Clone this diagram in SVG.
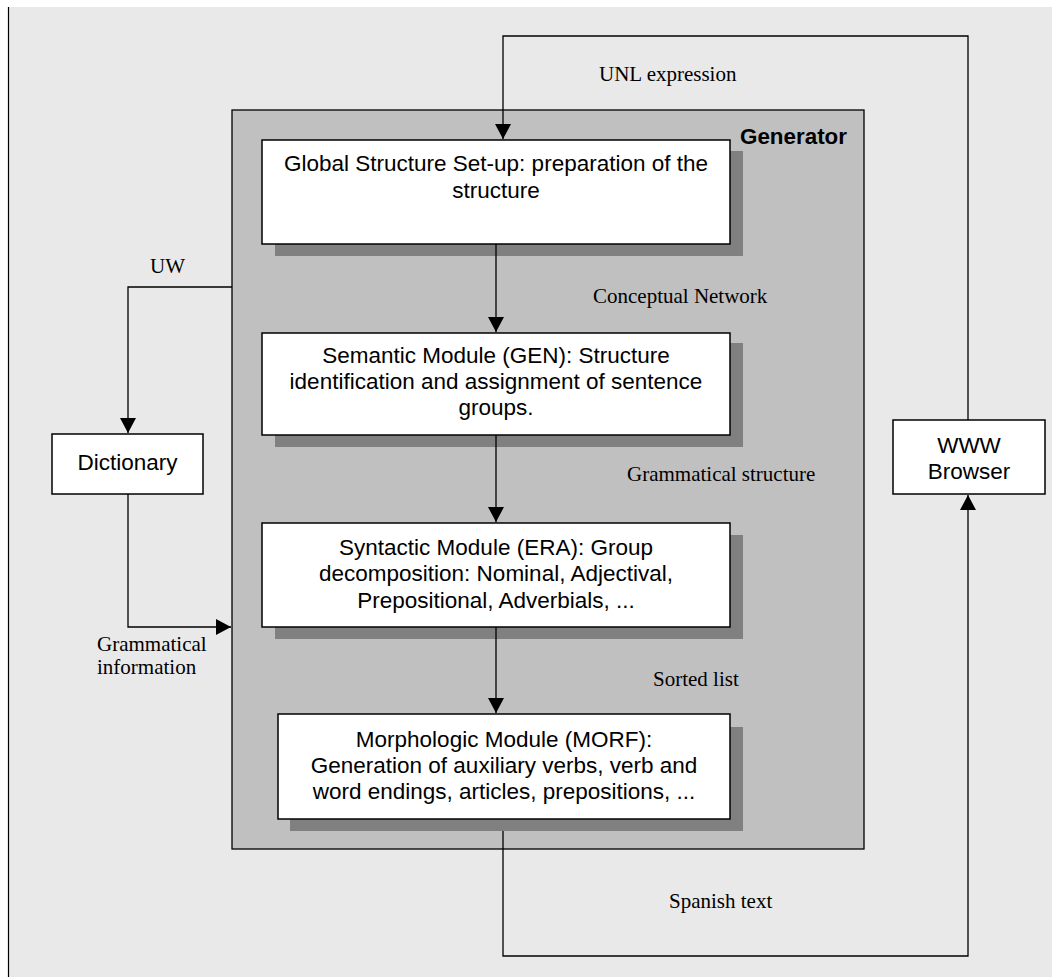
<svg xmlns="http://www.w3.org/2000/svg" width="1052" height="977" viewBox="0 0 1052 977">
  <defs>
    <style>
      .panel { fill: #e9e9e9; }
      .gen { fill: #c0c0c0; stroke: #000; stroke-width: 1.3; }
      .box { fill: #ffffff; stroke: #000; stroke-width: 1.5; }
      .shadow { fill: #808080; }
      .sans { font-family: "Liberation Sans", Arial, sans-serif; font-size: 22.5px; fill: #000; text-anchor: middle; }
      .title { font-family: "Liberation Sans", Arial, sans-serif; font-size: 22.4px; font-weight: bold; fill: #000; }
      .lbl { font-family: "Liberation Serif", "Times New Roman", serif; font-size: 21px; fill: #000; }
      .wire { fill: none; stroke: #000; stroke-width: 1.3; }
    </style>
    <marker id="arrow" viewBox="0 0 15 16" refX="15" refY="8" markerWidth="15" markerHeight="16" markerUnits="userSpaceOnUse" orient="auto">
      <path d="M0,0 L15,8 L0,16 z" fill="#000"/>
    </marker>
  </defs>

  <!-- page background with left rule -->
  <rect class="panel" x="8" y="7" width="1044" height="970"/>
  <line x1="8.5" y1="7" x2="8.5" y2="977" stroke="#000" stroke-width="1.2"/>

  <!-- Generator container -->
  <g id="generator">
    <rect class="gen" x="232" y="110" width="632" height="739"/>
    <text class="title" x="740" y="144">Generator</text>
  </g>

  <!-- module shadows -->
  <g id="shadows">
    <rect class="shadow" x="275" y="151" width="468" height="105"/>
    <rect class="shadow" x="275" y="343" width="468" height="104"/>
    <rect class="shadow" x="275" y="535" width="468" height="104"/>
    <rect class="shadow" x="290" y="727" width="453" height="104"/>
  </g>

  <!-- connectors -->
  <g id="connectors">
    <path class="wire" d="M968,420 V36 H503 V139" marker-end="url(#arrow)"/>
    <path class="wire" d="M496,244 V332" marker-end="url(#arrow)"/>
    <path class="wire" d="M496,435 V522" marker-end="url(#arrow)"/>
    <path class="wire" d="M496,627 V713" marker-end="url(#arrow)"/>
    <path class="wire" d="M232,287 H128 V433" marker-end="url(#arrow)"/>
    <path class="wire" d="M128,494 V627 H231" marker-end="url(#arrow)"/>
    <path class="wire" d="M503,831 V956 H968 V495" marker-end="url(#arrow)"/>
  </g>

  <g id="global-setup">
    <rect class="box" x="262" y="140" width="468" height="104"/>
    <text class="sans" x="496" y="171">Global Structure Set-up: preparation of the</text>
    <text class="sans" x="496" y="198">structure</text>
  </g>

  <g id="semantic-module">
    <rect class="box" x="262" y="333" width="468" height="102"/>
    <text class="sans" x="496" y="363">Semantic Module (GEN): Structure</text>
    <text class="sans" x="496" y="389">identification and assignment of sentence</text>
    <text class="sans" x="496" y="415">groups.</text>
  </g>

  <g id="syntactic-module">
    <rect class="box" x="262" y="523" width="468" height="104"/>
    <text class="sans" x="496" y="555">Syntactic Module (ERA): Group</text>
    <text class="sans" x="496" y="581">decomposition: Nominal, Adjectival,</text>
    <text class="sans" x="496" y="608">Prepositional, Adverbials, ...</text>
  </g>

  <g id="morphologic-module">
    <rect class="box" x="278" y="714" width="452" height="105"/>
    <text class="sans" x="504" y="747">Morphologic Module (MORF):</text>
    <text class="sans" x="504" y="773">Generation of auxiliary verbs, verb and</text>
    <text class="sans" x="504" y="799">word endings, articles, prepositions, ...</text>
  </g>

  <g id="dictionary">
    <rect class="box" x="52" y="434" width="151" height="60"/>
    <text class="sans" x="127.5" y="470">Dictionary</text>
  </g>

  <g id="www-browser">
    <rect class="box" x="893" y="420" width="152" height="74"/>
    <text class="sans" x="969" y="453">WWW</text>
    <text class="sans" x="969" y="479">Browser</text>
  </g>

  <!-- connector labels -->
  <g id="labels">
    <text class="lbl" x="599" y="81">UNL expression</text>
    <text class="lbl" x="150" y="273">UW</text>
    <text class="lbl" x="593" y="303">Conceptual Network</text>
    <text class="lbl" x="627" y="481">Grammatical structure</text>
    <text class="lbl" x="653" y="686">Sorted list</text>
    <text class="lbl" x="97" y="651">Grammatical</text>
    <text class="lbl" x="97" y="674">information</text>
    <text class="lbl" x="669" y="908">Spanish text</text>
  </g>
</svg>
